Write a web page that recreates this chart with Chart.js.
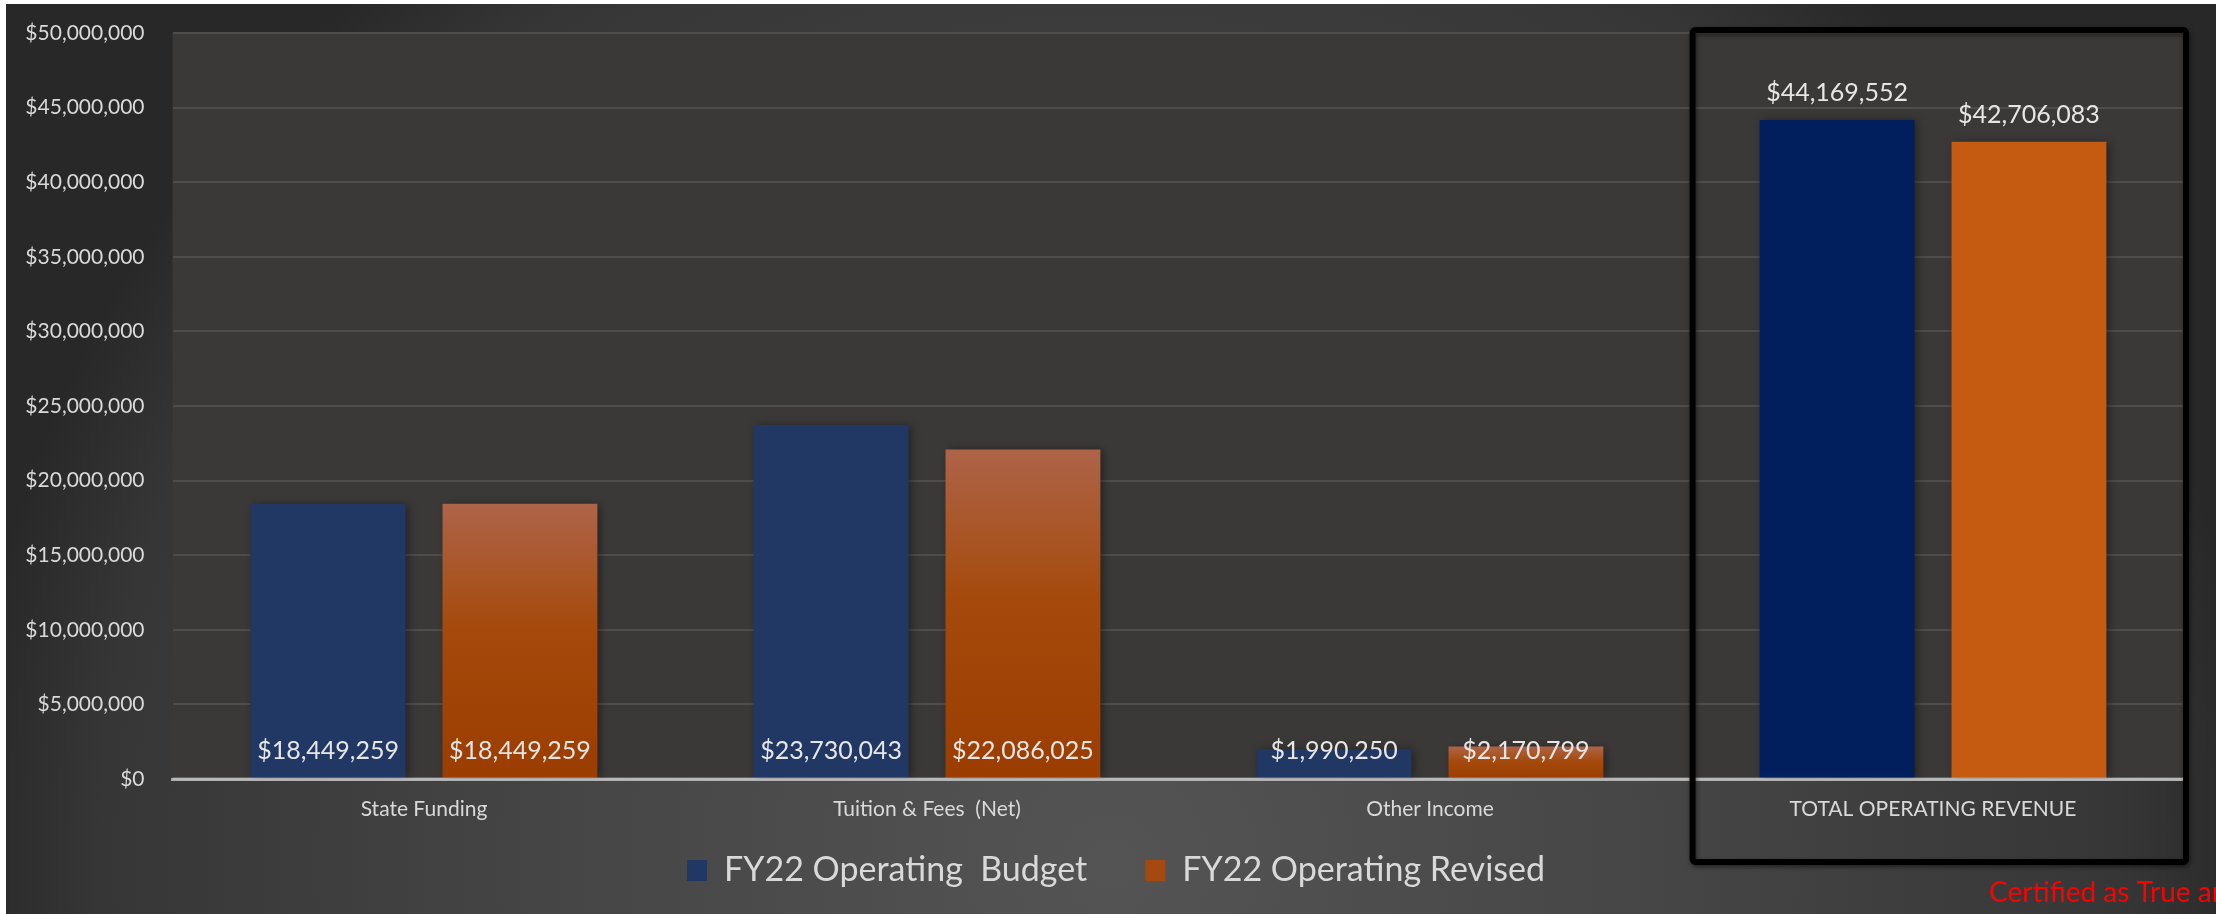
<!DOCTYPE html>
<html>
<head>
<meta charset="utf-8">
<script src="https://cdn.jsdelivr.net/npm/chart.js@4"></script>
<style>
  html, body { margin: 0; padding: 0; background: #fff; }
  #wrap { position: absolute; left: 6px; top: 4px; width: 2210px; height: 910px; }
</style>
</head>
<body>
<div id="wrap"><canvas id="revenueChart"></canvas></div>
<script>
/* --------------- Data --------------------- */
const categories = ["State Funding", "Tuition & Fees  (Net)", "Other Income", "TOTAL OPERATING REVENUE"];
const seriesNames = ["FY22 Operating  Budget", "FY22 Operating Revised"];
const budget = [18449259, 23730043, 1990250, 44169552];
const revised = [18449259, 22086025, 2170799, 42706083];
const yMax = 50000000;
const yStep = 5000000;
const footNote = "Certified as True and Correct";

/* --------------- Colors --------------------- */
const blue = "#213864";
const totalBlue = "#001F5C";
const totalOrange = "#C55A11";
const textColor = "#D9D9D9";

const money = v => "$" + v.toLocaleString("en-US");

const orangeFill = (c) => {
  if (c.type !== "data") return "#A44A10";
  if (c.dataIndex === 3) return totalOrange;
  const chart = c.chart;
  if (!chart.chartArea) return "#A44A10";
  const y = chart.scales.y;
  const top = y.getPixelForValue(c.raw);
  const base = y.getPixelForValue(0);
  const g = chart.ctx.createLinearGradient(0, top, 0, base);
  g.addColorStop(0, "#AE6448");
  g.addColorStop(0.45, "#A54A0C");
  g.addColorStop(1, "#9B3D00");
  return g;
};

/* --------------- Background, shadows, labels, box --------------------- */
const decor = {
  id: "decor",
  afterLayout(chart) {
    // legend sits a fixed distance under the axis
    const lg = chart.legend;
    lg.top = chart.chartArea.bottom + 16.5;
    lg.bottom = chart.height;
  },
  beforeDraw(chart) {
    const { ctx, width, height, chartArea: a } = chart;
    ctx.save();
    const g = ctx.createRadialGradient(1105, 860, 0, 1105, 860, 1150);
    g.addColorStop(0, "#545454");
    g.addColorStop(0.5, "#454545");
    g.addColorStop(0.88, "#363636");
    g.addColorStop(1, "#282828");
    ctx.fillStyle = g;
    ctx.fillRect(0, 0, width, height);
    ctx.fillStyle = "#3A3937";
    ctx.fillRect(a.left, a.top, a.right - a.left, a.bottom - a.top);
    ctx.restore();
  },
  beforeDatasetsDraw(chart) {
    const ctx = chart.ctx;
    ctx.save();
    ctx.shadowColor = "rgba(0,0,0,0.45)";
    ctx.shadowBlur = 9;
    ctx.shadowOffsetX = 3;
    ctx.shadowOffsetY = 1;
  },
  afterDatasetsDraw(chart) {
    const { ctx, chartArea: a } = chart;
    ctx.restore();
    ctx.save();
    // axis line over the bar bottoms
    ctx.strokeStyle = "rgba(200,200,200,0.55)";
    ctx.lineWidth = 3;
    ctx.beginPath();
    ctx.moveTo(a.left, a.bottom);
    ctx.lineTo(a.right, a.bottom);
    ctx.stroke();
    // value labels
    ctx.font = "25px Lato";
    ctx.fillStyle = "#E6E6E6";
    ctx.textAlign = "center";
    ctx.textBaseline = "middle";
    chart.data.datasets.forEach((ds, di) => {
      chart.getDatasetMeta(di).data.forEach((bar, i) => {
        const y = i === 3 ? bar.y - 27 : bar.base - 27;
        ctx.fillText(money(ds.data[i]), bar.x, y);
      });
    });
    ctx.restore();
  },
  afterDraw(chart) {
    const { ctx, chartArea: a, scales } = chart;
    const catW = (a.right - a.left) / categories.length;
    const cx = scales.x.getPixelForValue(3);
    ctx.save();
    // box round the total
    ctx.shadowColor = "rgba(0,0,0,0.5)";
    ctx.shadowBlur = 4;
    ctx.shadowOffsetX = 1;
    ctx.shadowOffsetY = 2;
    ctx.strokeStyle = "#000";
    ctx.lineWidth = 6;
    ctx.beginPath();
    ctx.roundRect(cx - catW * 0.484 + 3, a.top - 3, catW * 0.484 + (a.right - cx) + 1.5 - 3, a.bottom - a.top + 86, 3);
    ctx.stroke();
    ctx.restore();
    // certified note
    ctx.save();
    ctx.font = "28px Lato";
    ctx.fillStyle = "#FF0000";
    ctx.textAlign = "left";
    ctx.textBaseline = "middle";
    ctx.fillText(footNote, 1983, 889);
    ctx.restore();
  }
};

/* --------------- Chart --------------------- */
Chart.defaults.font.family = "Lato";
Chart.defaults.color = textColor;

new Chart(document.getElementById("revenueChart"), {
  type: "bar",
  plugins: [decor],
  data: {
    labels: categories,
    datasets: [
      {
        label: seriesNames[0],
        data: budget,
        backgroundColor: budget.map((_, i) => (i === 3 ? totalBlue : blue)),
        categoryPercentage: 0.763,
        barPercentage: 0.807,
      },
      {
        label: seriesNames[1],
        data: revised,
        backgroundColor: orangeFill,
        categoryPercentage: 0.763,
        barPercentage: 0.807,
      },
    ],
  },
  options: {
    responsive: true,
    maintainAspectRatio: false,
    animation: false,
    layout: { padding: { left: 10, right: 0, top: 29, bottom: 0 } },
    plugins: {
      tooltip: { enabled: false },
      legend: {
        position: "bottom",
        maxHeight: 70,
        labels: {
          boxWidth: 20,
          boxHeight: 21,
          padding: 58,
          color: textColor,
          font: { size: 34 },
          generateLabels: (chart) =>
            chart.data.datasets.map((ds, i) => ({
              text: ds.label,
              fillStyle: i === 0 ? blue : "#A44A10",
              strokeStyle: "rgba(0,0,0,0)",
              lineWidth: 0,
              fontColor: textColor,
              datasetIndex: i,
              hidden: false,
            })),
        },
      },
    },
    scales: {
      x: {
        grid: { display: false, drawTicks: false },
        border: { display: true, color: "#A6A6A6", width: 3 },
        ticks: { padding: 18, font: { size: 21 }, color: textColor, maxRotation: 0, autoSkip: false },
        afterFit: (s) => { s.height = 65; },
      },
      y: {
        min: 0,
        max: yMax,
        grid: { color: "#4E4D4B", lineWidth: 2, drawTicks: false },
        border: { display: false },
        ticks: { stepSize: yStep, padding: 28, font: { size: 21, lineHeight: 0.1 }, color: textColor, callback: (v) => money(v) },
        afterFit: (s) => { s.width = 156.5; },
      },
      y2: {
        type: "linear",
        position: "right",
        display: true,
        grid: { display: false, drawTicks: false },
        border: { display: false },
        ticks: { display: false },
        afterFit: (s) => { s.width = 31.5; },
      },
    },
  },
});
</script>
</body>
</html>
